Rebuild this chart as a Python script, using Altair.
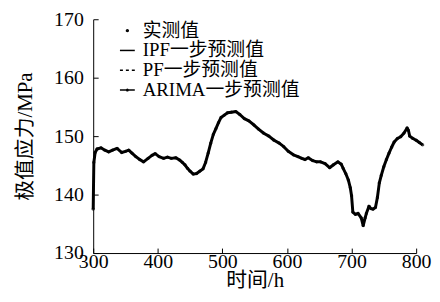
import altair as alt
import pandas as pd

hours = [300, 301, 303, 306, 312, 318, 324, 330, 337, 344, 350, 355, 360, 366, 372, 378,
         385, 391, 396, 402, 409, 415, 421, 428, 434, 438, 442, 446, 450, 455, 460, 465,
         470, 474, 478, 482, 486, 490, 494, 498, 503, 508, 514, 521, 527, 534, 541, 549,
         556, 564, 572, 580, 588, 595, 602, 610, 617, 623, 628, 633, 640, 646, 652, 659,
         666, 672, 679, 684, 687, 691, 695, 698, 700, 702, 706, 710, 715, 718, 721, 723,
         727, 730, 733, 737, 740, 743, 746, 750, 754, 758, 762, 766, 771, 776, 781, 786,
         788, 790, 795, 800, 805, 810]
stress = [137.5, 145.5, 147.2, 147.8, 148.0, 147.6, 147.3, 147.6, 147.9, 147.2, 147.4, 147.6,
          147.1, 146.5, 146.0, 145.6, 146.2, 146.7, 147.0, 146.5, 146.2, 146.4, 146.2, 146.3,
          145.9, 145.5, 145.1, 144.5, 144.0, 143.5, 143.6, 144.0, 144.4, 145.5, 147.1, 148.8,
          150.3, 151.3, 152.3, 153.2, 153.6, 154.0, 154.1, 154.2, 153.7, 153.0, 152.6, 151.9,
          151.2, 150.5, 150.0, 149.3, 148.8, 148.2, 147.4, 146.8, 146.5, 146.2, 146.0, 146.3,
          145.8, 145.6, 145.6, 145.3, 144.6, 145.1, 145.6, 145.2, 144.5, 143.6, 142.5, 141.2,
          139.8, 137.0, 136.6, 136.8, 136.0, 134.7, 136.0, 136.8, 138.0, 137.6, 137.5, 137.8,
          139.5, 142.0, 143.3, 144.8, 146.0, 147.1, 148.1, 149.0, 149.6, 149.9, 150.5, 151.4,
          151.0, 150.0, 149.6, 149.3, 148.9, 148.5]

series_names = ["实测值", "IPF一步预测值", "PF一步预测值", "ARIMA一步预测值"]
series_shapes = [
    "M0,-0.12A0.12,0.12 0 1,1 0,0.12A0.12,0.12 0 1,1 0,-0.12Z",
    "M-1,0H1",
    "M-1,0H-0.6M-0.2,0H0.2M0.6,0H1",
    "M-1,0H1M0,-0.1A0.1,0.1 0 1,1 0,0.1A0.1,0.1 0 1,1 0,-0.1Z",
]
x_ticks = [300, 400, 500, 600, 700, 800]
y_ticks = [130, 140, 150, 160, 170]

FONT = "Liberation Serif, Times New Roman, Noto Sans CJK SC"

df = pd.DataFrame({"hour": hours, "stress": stress, "series": series_names[0]})

xs = alt.Scale(domain=[300, 800], nice=False, zero=False)
ys = alt.Scale(domain=[130, 170], nice=False, zero=False)

base = alt.Chart(df)

line = base.mark_line(color="black", strokeWidth=3, strokeJoin="round").encode(
    x=alt.X("hour:Q", scale=xs,
            axis=alt.Axis(values=x_ticks, title="时间/h", tickSize=0, labelPadding=-1,
                          labelFontSize=20, titleFontSize=21, titleFontWeight="normal",
                          titleBaseline="alphabetic", titleY=34, grid=False,
                          domainColor="black", labelColor="black", titleColor="black",
                          labelFont=FONT, titleFont=FONT, labelFlush=False)),
    y=alt.Y("stress:Q", scale=ys,
            axis=alt.Axis(values=y_ticks, title="极值应力/MPa", tickSize=0, labelPadding=10,
                          labelFontSize=20, titleFontSize=21, titleFontWeight="normal",
                          titleBaseline="middle", titleX=-68, titleY=118, grid=False,
                          domainColor="black", labelColor="black", titleColor="black",
                          labelFont=FONT, titleFont=FONT, labelFlush=False)),
)

pts = base.mark_point(filled=False, color="black", size=225, strokeWidth=1.5).encode(
    x=alt.X("hour:Q", scale=xs,
            axis=alt.Axis(orient="top", offset=-236, values=x_ticks, labels=False,
                          domain=False, tickSize=5, tickColor="black", tickWidth=1,
                          title=None, grid=False)),
    y=alt.Y("stress:Q", scale=ys,
            axis=alt.Axis(orient="right", offset=-326, values=y_ticks, labels=False,
                          domain=False, tickSize=5, tickColor="black", tickWidth=1,
                          title=None, grid=False)),
    shape=alt.Shape("series:N",
                    scale=alt.Scale(domain=series_names, range=series_shapes),
                    legend=alt.Legend(title=None, orient="none", legendX=25, legendY=2,
                                      labelFont=FONT, labelFontSize=19, labelColor="black",
                                      labelLimit=400,
                                      symbolSize=225, symbolStrokeColor="black",
                                      symbolFillColor="black", symbolStrokeWidth=1.5,
                                      symbolOpacity=1, rowPadding=0, labelOffset=6,
                                      padding=0)),
)

chart = alt.layer(line, pts).resolve_axis(x="independent", y="independent").properties(
    width=326, height=236,
    autosize=alt.AutoSizeParams(type="none"),
    padding={"left": 86, "top": 10, "right": 16, "bottom": 40},
).configure_view(stroke=None).configure_axis(domainWidth=1)

chart.save("out.html", embed_options={"renderer": "svg", "actions": False})
